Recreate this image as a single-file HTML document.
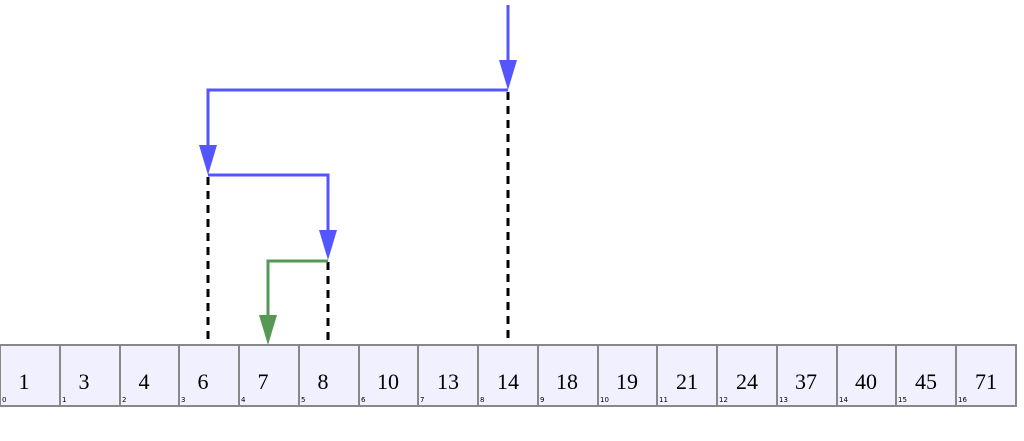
<!DOCTYPE html><html><head><style>body{margin:0;background:#fff}</style></head><body>
<svg width="1024" height="436" xmlns="http://www.w3.org/2000/svg">
<defs>
<marker id="b" markerWidth="6" markerHeight="10" refX="3" refY="10" orient="auto-start-reverse" markerUnits="userSpaceOnUse" viewBox="0 0 6 10"></marker>
</defs>
<g stroke="#000" stroke-width="3" stroke-dasharray="8,6">
<line x1="508" y1="92" x2="508" y2="340"/>
<line x1="208" y1="177" x2="208" y2="340"/>
<line x1="328" y1="262" x2="328" y2="340"/>
</g>
<g stroke="#5555ff" stroke-width="3" fill="none">
<polyline points="508,5 508,70"/>
<polyline points="208,155 208,90 508,90"/>
<polyline points="208,175 328,175 328,240"/>
</g>
<g fill="#5555ff">
<polygon points="499,60 517,60 508,90"/>
<polygon points="199,145 217,145 208,175"/>
<polygon points="319,230 337,230 328,260"/>
</g>
<polyline points="328,261 268,261 268,325" stroke="#559955" stroke-width="3" fill="none"/>
<polygon points="259,315 277,315 268,345" fill="#559955"/>
<g font-family="Liberation Serif, serif" font-size="22" fill="#000">
<script>/* */</script>
</g>
<g id="cells"></g>
<rect x="0" y="345" width="1016" height="61" fill="#f0f0ff" stroke="#888" stroke-width="2"/>
<g stroke="#888" stroke-width="2">
<line x1="60" y1="345" x2="60" y2="406"/><line x1="120" y1="345" x2="120" y2="406"/><line x1="179" y1="345" x2="179" y2="406"/><line x1="239" y1="345" x2="239" y2="406"/><line x1="299" y1="345" x2="299" y2="406"/><line x1="359" y1="345" x2="359" y2="406"/><line x1="418" y1="345" x2="418" y2="406"/><line x1="478" y1="345" x2="478" y2="406"/><line x1="538" y1="345" x2="538" y2="406"/><line x1="598" y1="345" x2="598" y2="406"/><line x1="657" y1="345" x2="657" y2="406"/><line x1="717" y1="345" x2="717" y2="406"/><line x1="777" y1="345" x2="777" y2="406"/><line x1="837" y1="345" x2="837" y2="406"/><line x1="896" y1="345" x2="896" y2="406"/><line x1="956" y1="345" x2="956" y2="406"/>
</g>
<g font-family="Liberation Serif, serif" font-size="22" fill="#000" text-anchor="middle">
<text x="24" y="389">1</text><text x="84" y="389">3</text><text x="144" y="389">4</text><text x="203" y="389">6</text><text x="263" y="389">7</text><text x="323" y="389">8</text><text x="388" y="389">10</text><text x="448" y="389">13</text><text x="508" y="389">14</text><text x="567" y="389">18</text><text x="627" y="389">19</text><text x="687" y="389">21</text><text x="747" y="389">24</text><text x="806" y="389">37</text><text x="866" y="389">40</text><text x="926" y="389">45</text><text x="986" y="389">71</text>
</g>
<g font-family="DejaVu Sans, sans-serif" font-size="7" fill="#000">
<text x="2" y="402">0</text><text x="62" y="402">1</text><text x="122" y="402">2</text><text x="181" y="402">3</text><text x="241" y="402">4</text><text x="301" y="402">5</text><text x="361" y="402">6</text><text x="420" y="402">7</text><text x="480" y="402">8</text><text x="540" y="402">9</text><text x="600" y="402">10</text><text x="659" y="402">11</text><text x="719" y="402">12</text><text x="779" y="402">13</text><text x="839" y="402">14</text><text x="898" y="402">15</text><text x="958" y="402">16</text>
</g>
</svg>
</body></html>
